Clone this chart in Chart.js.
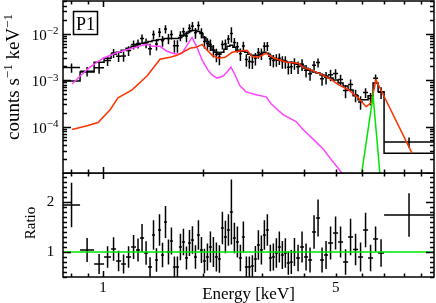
<!DOCTYPE html>
<html><head><meta charset="utf-8">
<script src="https://cdn.jsdelivr.net/npm/chart.js@4/dist/chart.umd.min.js"></script>
<style>
html,body{margin:0;padding:0;background:#fff;}
#wrap{position:relative;width:436px;height:303px;overflow:hidden;background:#fff;}
#top{position:absolute;left:0;top:0;}
#bot{position:absolute;left:0;top:173px;}
</style></head><body>
<div id="wrap">
<canvas id="top" width="436" height="174" style="width:436px;height:174px"></canvas>
<canvas id="bot" width="436" height="130" style="width:436px;height:130px"></canvas>
</div>
<script>
// ---- data (energies in keV) ----
const binEdges = [0.758,0.853,0.940,1.007,1.057,1.094,1.133,1.172,1.214,1.256,1.291,1.328,1.365,1.403,1.432,1.462,1.493,1.524,1.556,1.588,1.621,1.655,1.690,1.725,1.762,1.799,1.836,1.875,1.914,1.954,1.995,2.037,2.079,2.123,2.167,2.213,2.259,2.306,2.355,2.404,2.454,2.506,2.558,2.612,2.666,2.722,2.779,2.838,2.897,2.958,3.020,3.083,3.147,3.213,3.281,3.349,3.419,3.491,3.564,3.638,3.714,3.799,3.905,4.014,4.127,4.243,4.362,4.484,4.610,4.739,4.906,5.079,5.257,5.442,5.634,5.832,6.037,6.250,6.470,6.698,6.981,9.86];
const modelCounts = [9.5e-4,1.48e-3,2.42e-3,2.94e-3,3.57e-3,3.94e-3,4.35e-3,4.80e-3,5.29e-3,5.83e-3,
 6.12e-3,6.44e-3,6.76e-3,7.10e-3,7.10e-3,7.45e-3,7.45e-3,7.83e-3,7.83e-3,7.83e-3,
 7.83e-3,7.83e-3,8.22e-3,9.07e-3,1.00e-2,1.10e-2,1.16e-2,1.16e-2,1.10e-2,1.00e-2,
 8.22e-3,6.76e-3,5.29e-3,4.35e-3,3.94e-3,3.57e-3,3.94e-3,4.57e-3,5.29e-3,5.56e-3,
 5.04e-3,4.35e-3,4.14e-3,4.14e-3,3.94e-3,3.57e-3,3.40e-3,3.40e-3,3.40e-3,3.57e-3,
 3.94e-3,3.75e-3,3.24e-3,2.94e-3,2.80e-3,2.67e-3,2.67e-3,2.54e-3,2.42e-3,2.42e-3,
 2.30e-3,2.19e-3,1.99e-3,1.80e-3,1.63e-3,1.48e-3,1.41e-3,1.28e-3,1.22e-3,1.10e-3,
 1.00e-3,8.63e-4,7.45e-4,6.12e-4,4.57e-4,3.75e-4,3.75e-4,4.57e-4,8.63e-4,5.56e-4,
 2.67e-5];
const dataCounts = [1.85e-3,1.54e-3,1.84e-3,2.64e-3,3.79e-3,3.24e-3,3.30e-3,4.31e-3,5.81e-3,6.07e-3,
 7.83e-3,6.31e-3,4.72e-3,9.52e-3,5.95e-3,1.07e-2,7.00e-3,1.25e-2,7.83e-3,9.57e-3,
 5.48e-3,5.48e-3,9.02e-3,1.09e-2,8.81e-3,1.30e-2,1.44e-2,1.04e-2,1.48e-2,1.04e-2,
 6.76e-3,6.07e-3,5.81e-3,4.35e-3,3.54e-3,3.07e-3,5.83e-3,5.95e-3,7.60e-3,1.00e-2,
 6.44e-3,5.21e-3,3.65e-3,5.39e-3,2.75e-3,2.50e-3,2.45e-3,2.92e-3,3.88e-3,3.72e-3,
 5.29e-3,5.39e-3,2.85e-3,2.64e-3,2.74e-3,2.92e-3,2.50e-3,2.49e-3,1.88e-3,1.93e-3,
 2.30e-3,1.93e-3,2.18e-3,1.62e-3,1.37e-3,2.07e-3,2.37e-3,1.07e-3,1.14e-3,1.30e-3,
 1.38e-3,1.03e-3,5.94e-4,7.98e-4,4.75e-4,3.37e-4,5.39e-4,4.02e-4,1.09e-3,5.44e-4,
 4.63e-5];
const ratioValues = [1.94,1.04,0.76,0.9,1.06,0.82,0.76,0.9,1.1,1.04,
 1.28,0.98,0.7,1.34,0.84,1.44,0.94,1.6,1.0,1.22,
 0.7,0.7,1.1,1.2,0.88,1.18,1.24,0.9,1.34,1.04,
 0.82,0.9,1.1,1.0,0.9,0.86,1.48,1.3,1.44,1.8,
 1.28,1.2,0.88,1.3,0.7,0.7,0.72,0.86,1.14,1.04,
 1.34,1.44,0.88,0.9,0.98,1.1,0.94,0.98,0.78,0.8,
 1.0,0.88,1.1,0.9,0.84,1.4,1.68,0.84,0.94,1.18,
 1.38,1.2,0.8,1.3,1.05,0.9,1.44,0.88,1.26,0.98,
 1.74];
const relErr = [0.23,0.23,0.26,0.24,0.22,0.25,0.25,0.24,0.22,0.22,
 0.22,0.24,0.28,0.22,0.28,0.22,0.26,0.2,0.25,0.22,
 0.3,0.3,0.24,0.22,0.26,0.22,0.22,0.26,0.22,0.25,
 0.3,0.3,0.28,0.3,0.32,0.32,0.22,0.25,0.22,0.36,
 0.24,0.26,0.3,0.24,0.3,0.3,0.3,0.3,0.26,0.28,
 0.22,0.22,0.3,0.3,0.3,0.28,0.3,0.3,0.3,0.3,
 0.28,0.3,0.28,0.3,0.3,0.24,0.22,0.3,0.3,0.28,
 0.24,0.26,0.32,0.28,0.3,0.32,0.24,0.3,0.2,0.28,
 0.25];
const hotE = [0.807,0.901,0.966,1.050,1.109,1.222,1.355,1.483,1.589,1.668,1.824,1.902,1.984,2.055,2.128,2.214,2.325,2.441,2.543,2.705,2.800,2.919,3.088,3.264,3.553,3.855,3.987,4.365,4.771,5.103,5.460,5.840,6.166,6.379,6.603,8.47];
const hotV = [8.63e-5,1.05e-4,1.22e-4,2.30e-4,4.14e-4,6.12e-4,1.22e-3,2.80e-3,3.08e-3,3.40e-3,4.80e-3,5.04e-3,5.83e-3,4.35e-3,3.40e-3,2.94e-3,3.08e-3,3.94e-3,4.14e-3,4.35e-3,3.24e-3,3.08e-3,3.75e-3,2.94e-3,2.42e-3,2.30e-3,1.89e-3,1.48e-3,1.10e-3,7.83e-4,6.12e-4,4.14e-4,2.67e-4,3.24e-4,1.00e-3,2.67e-5];
const coolE = [0.807,0.853,0.914,1.0,1.109,1.222,1.310,1.355,1.403,1.483,1.556,1.621,1.680,1.725,1.787,1.850,1.915,1.984,2.066,2.123,2.199,2.293,2.358,2.422,2.491,2.580,2.688,2.880,3.088,3.196,3.471,3.799,3.987,4.282,4.589,4.834,5.103,5.326];
const coolV = [8.22e-4,1.22e-3,1.89e-3,2.94e-3,3.94e-3,4.80e-3,5.56e-3,5.83e-3,5.29e-3,5.29e-3,4.14e-3,3.75e-3,3.57e-3,3.75e-3,5.56e-3,8.22e-3,5.04e-3,2.67e-3,1.63e-3,1.28e-3,1.10e-3,1.22e-3,1.48e-3,1.89e-3,1.28e-3,7.45e-4,5.56e-4,4.80e-4,4.35e-4,3.08e-4,1.80e-4,1.28e-4,8.63e-5,5.29e-5,3.24e-5,1.99e-5,1.22e-5,8.22e-6];
const lineE = [5.98,6.47,6.78];
const lineV = [1.0e-5,4.6e-4,1.0e-5];
const unityE = [0.758,9.86];
const unityV = [1,1];
const xTickValues = [0.8,0.9,1,2,3,4,5,6,7,8,9];
const xMajorTicks = [1];
const xTickLabels = ['1','5'];
const xTickLabelValues = [1,5];
const yTopDecades = [1e-5,1e-4,1e-3,1e-2];
const yTopLabelValues = [1e-2,1e-3,1e-4];
const yTopLabelExp = ['\u22122','\u22123','\u22124'];
const ratioTickLabels = ['1','2'];
const ratioTickValues = [1,2];

// ---- build point lists ----
const SERIF = "'Liberation Serif','Times New Roman',serif";
const RED = '#ff3300', MAG = '#ff44ff', GRN = '#00e600';
function pairs(xs, ys){ return xs.map((x,i)=>({x:x,y:ys[i]})); }
function histPts(vals){
  const p=[];
  vals.forEach((v,i)=>{ p.push({x:binEdges[i],y:v},{x:binEdges[i+1],y:v}); });
  return p;
}
function crossPts(vals, errOf){
  const p=[];
  vals.forEach((v,i)=>{
    const lo=binEdges[i], hi=binEdges[i+1], c=Math.sqrt(lo*hi), e=errOf(v,i);
    p.push({x:lo,y:v},{x:hi,y:v},{x:c,y:null},{x:c,y:v-e},{x:c,y:v+e},{x:c,y:null});
  });
  return p;
}
const ds = (data,color,w)=>({data:data,borderColor:color,borderWidth:w||1.5,pointRadius:0,tension:0,spanGaps:false,fill:false});

function drawTicksX(ctx, a, xs){
  xTickValues.forEach(t=>{
    const px = Math.round(xs.getPixelForValue(t))+0.5;
    const len = xMajorTicks.includes(t) ? 6 : 3.5;
    ctx.beginPath();
    ctx.moveTo(px,a.top); ctx.lineTo(px,a.top+len);
    ctx.moveTo(px,a.bottom); ctx.lineTo(px,a.bottom-len);
    ctx.stroke();
  });
}

const topPlugin = {
  id:'topFrame',
  afterDraw(chart){
    const ctx=chart.ctx, a=chart.chartArea, xs=chart.scales.x, ys=chart.scales.y;
    ctx.save();
    ctx.strokeStyle='#000'; ctx.lineWidth=1.5;
    ctx.strokeRect(a.left,a.top,a.right-a.left,a.bottom-a.top);
    drawTicksX(ctx,a,xs);
    yTopDecades.forEach(d=>{
      for(let k=1;k<=9;k++){
        const v=d*k; if(v<1e-5||v>0.05) continue;
        const py=Math.round(ys.getPixelForValue(v))+0.5;
        const len = k===1 ? 8 : 4;
        ctx.beginPath();
        ctx.moveTo(a.left,py); ctx.lineTo(a.left+len,py);
        ctx.moveTo(a.right,py); ctx.lineTo(a.right-len,py);
        ctx.stroke();
      }
    });
    ctx.fillStyle='#000';
    ctx.textBaseline='alphabetic';
    yTopLabelValues.forEach((v,i)=>{
      const py=ys.getPixelForValue(v);
      ctx.font='15px '+SERIF; const w1=ctx.measureText('10').width;
      ctx.font='11px '+SERIF; const w2=ctx.measureText(yTopLabelExp[i]).width;
      const x0=58.5-w1-w2;
      ctx.font='15px '+SERIF; ctx.textAlign='left';
      ctx.fillText('10',x0,py+6);
      ctx.font='11px '+SERIF;
      ctx.fillText(yTopLabelExp[i],x0+w1,py+0.5);
    });
    // y title
    const parts=[['counts s',19,0],['\u22121',13,-7],[' keV',19,0],['\u22121',13,-7]];
    let tot=0; parts.forEach(p=>{ctx.font=p[1]+'px '+SERIF; tot+=ctx.measureText(p[0]).width;});
    ctx.translate(19,77); ctx.rotate(-Math.PI/2);
    let x=-tot/2;
    parts.forEach(p=>{ctx.font=p[1]+'px '+SERIF; ctx.fillText(p[0],x,p[2]); x+=ctx.measureText(p[0]).width;});
    ctx.restore();
    // P1 box
    ctx.save();
    ctx.strokeStyle='#000'; ctx.lineWidth=1.5;
    ctx.strokeRect(73.5,11.5,24,23);
    ctx.fillStyle='#000'; ctx.font='18px '+SERIF; ctx.textAlign='center'; ctx.textBaseline='alphabetic';
    ctx.fillText('P1',85.5,29.5);
    ctx.restore();
  }
};

const botPlugin = {
  id:'botFrame',
  afterDraw(chart){
    const ctx=chart.ctx, a=chart.chartArea, xs=chart.scales.x, ys=chart.scales.y;
    ctx.save();
    ctx.strokeStyle='#000'; ctx.lineWidth=1.5;
    ctx.strokeRect(a.left,a.top,a.right-a.left,a.bottom-a.top);
    drawTicksX(ctx,a,xs);
    for(let k=5;k<=25;k++){
      const v=k/10;
      const py=Math.round(ys.getPixelForValue(v))+0.5;
      const len = (k%10===0) ? 8 : 4;
      ctx.beginPath();
      ctx.moveTo(a.left,py); ctx.lineTo(a.left+len,py);
      ctx.moveTo(a.right,py); ctx.lineTo(a.right-len,py);
      ctx.stroke();
    }
    ctx.fillStyle='#000';
    ctx.font='15px '+SERIF; ctx.textAlign='center'; ctx.textBaseline='middle';
    ratioTickValues.forEach((v,i)=>{ ctx.fillText(ratioTickLabels[i],50.5,ys.getPixelForValue(v)); });
    xTickLabelValues.forEach((v,i)=>{ ctx.fillText(xTickLabels[i],xs.getPixelForValue(v),115.5); });
    ctx.font='17px '+SERIF; ctx.textBaseline='alphabetic';
    ctx.fillText('Energy [keV]',(a.left+a.right)/2,126);
    ctx.translate(35,50); ctx.rotate(-Math.PI/2);
    ctx.font='15px '+SERIF; ctx.textAlign='center'; ctx.textBaseline='alphabetic';
    ctx.fillText('Ratio',0,0);
    ctx.restore();
  }
};

const common = (pad, ymin, ymax, ytype)=>({
  responsive:false, animation:false, events:[],
  layout:{padding:pad},
  plugins:{legend:{display:false},tooltip:{enabled:false}},
  scales:{
    x:{type:'logarithmic',min:0.758,max:9.86,display:false},
    y:{type:ytype,min:ymin,max:ymax,display:false}
  }
});

new Chart(document.getElementById('top'),{
  type:'line',
  data:{datasets:[
    ds(pairs(lineE,lineV),GRN),
    ds(pairs(hotE,hotV),RED),
    ds(pairs(coolE,coolV),MAG),
    ds(crossPts(dataCounts,(v,i)=>v*relErr[i]),'#000'),
    ds(histPts(modelCounts),'#000')
  ]},
  options:common({left:63,right:2,top:1,bottom:1},1e-5,0.05,'logarithmic'),
  plugins:[topPlugin]
});

new Chart(document.getElementById('bot'),{
  type:'line',
  data:{datasets:[
    ds(pairs(unityE,unityV),GRN),
    ds(crossPts(ratioValues,(v,i)=>v*relErr[i]),'#000')
  ]},
  options:common({left:63,right:2,top:0,bottom:26},0.5,2.58,'linear'),
  plugins:[botPlugin]
});
</script>
</body></html>
